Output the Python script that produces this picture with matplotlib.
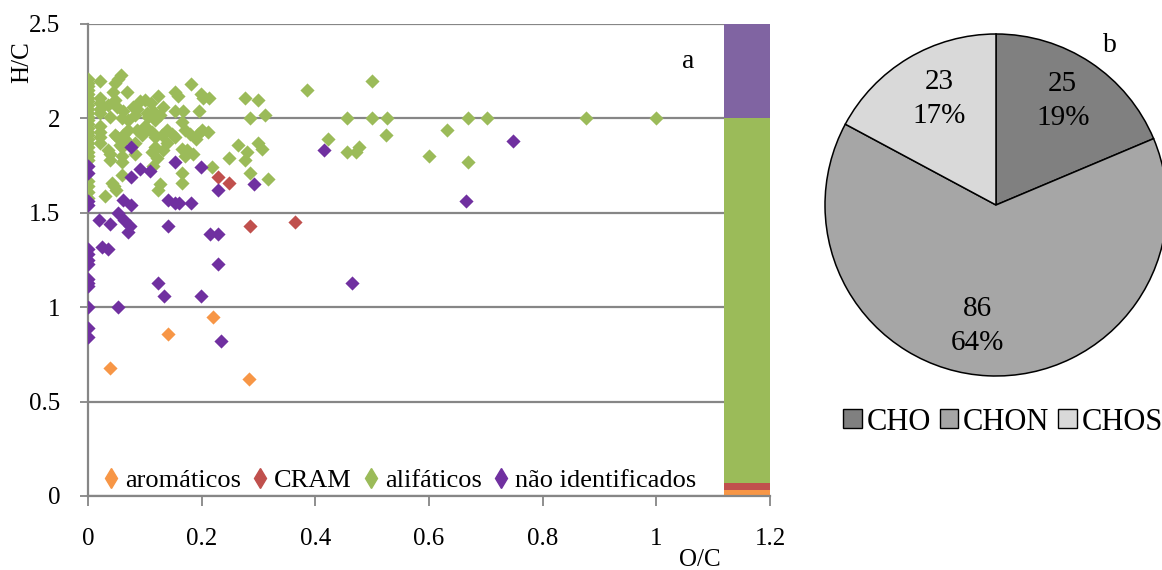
import matplotlib
matplotlib.use('Agg')
import matplotlib.pyplot as plt
from matplotlib.lines import Line2D
from matplotlib.patches import Patch

plt.rcParams['font.family'] = ['Liberation Serif', 'DejaVu Serif']

# ---------------- dados ----------------
# alifáticos
ali_x = [0, 0, 0, 0, 0, 0, 0, 0, 0, 0, 0, 0, 0, 0, 0, 0, 0, 0, 0, 0, 0, 0, 0, 0, 0, 0,
         0.021, 0.021, 0.021, 0.021, 0.021, 0.021, 0.021, 0.021, 0.021,
         0.048, 0.053, 0.058, 0.069, 0.044, 0.035, 0.048, 0.051, 0.062, 0.039, 0.060, 0.070,
         0.083, 0.092, 0.100, 0.111, 0.123, 0.114, 0.104, 0.086, 0.079, 0.106, 0.118, 0.127,
         0.132, 0.153, 0.158, 0.181, 0.153, 0.167, 0.195, 0.199, 0.203, 0.213, 0.165,
         0.035, 0.039, 0.048, 0.051, 0.062, 0.065, 0.070, 0.060, 0.039, 0.060, 0.083, 0.086,
         0.100, 0.095, 0.113, 0.118, 0.130, 0.139, 0.148, 0.153, 0.171, 0.180, 0.190, 0.194,
         0.200, 0.211, 0.139, 0.118, 0.113, 0.132, 0.165, 0.174, 0.185, 0.171, 0.121, 0.114,
         0.056, 0.083, 0.060, 0.218, 0.165, 0.165, 0.127, 0.123, 0.060, 0.042, 0.046, 0.049,
         0.030, 0.248, 0.264, 0.280, 0.276, 0.285, 0.317, 0.299, 0.306, 0.276, 0.299, 0.285,
         0.311, 0.385, 0.500, 0.455, 0.500, 0.526, 0.668, 0.702, 0.876, 1.000, 0.422, 0.455,
         0.472, 0.477, 0.524, 0.600, 0.632, 0.668]
ali_y = [2.21, 2.19, 2.17, 2.15, 2.13, 2.11, 2.09, 2.07, 2.05, 2.03, 2.01, 1.99, 1.97,
         1.95, 1.93, 1.91, 1.89, 1.87, 1.85, 1.82, 1.80, 1.78, 1.67, 1.64, 1.61, 1.58,
         2.20, 2.11, 2.08, 2.05, 2.03, 1.96, 1.93, 1.90, 1.87,
         2.19, 2.21, 2.23, 2.14, 2.14, 2.07, 2.10, 2.06, 2.04, 2.01, 2.00, 1.99,
         2.02, 2.09, 2.10, 2.08, 2.12, 2.04, 2.03, 2.05, 2.06, 2.01, 1.99, 2.02,
         2.06, 2.14, 2.12, 2.18, 2.04, 2.04, 2.04, 2.13, 2.11, 2.11, 1.98,
         1.83, 1.78, 1.91, 1.90, 1.91, 1.89, 1.94, 1.85, 1.81, 1.80, 1.81, 1.94,
         1.96, 1.91, 1.93, 1.90, 1.91, 1.94, 1.92, 1.90, 1.94, 1.92, 1.89, 1.92,
         1.94, 1.93, 1.87, 1.85, 1.82, 1.83, 1.84, 1.83, 1.81, 1.80, 1.79, 1.75,
         1.86, 1.87, 1.77, 1.74, 1.71, 1.66, 1.65, 1.62, 1.70, 1.66, 1.64, 1.62,
         1.59, 1.79, 1.86, 1.82, 1.78, 1.71, 1.68, 1.87, 1.84, 2.11, 2.10, 2.00,
         2.02, 2.15, 2.20, 2.00, 2.00, 2.00, 2.00, 2.00, 2.00, 2.00, 1.89, 1.82,
         1.82, 1.85, 1.91, 1.80, 1.94, 1.77]

# não identificados
ni_x = [0, 0, 0, 0, 0, 0, 0, 0, 0, 0, 0, 0, 0, 0,
        0.019, 0.039, 0.063, 0.053, 0.074, 0.070, 0.141, 0.215, 0.229, 0.025, 0.036,
        0.229, 0.124, 0.133, 0.199, 0.053, 0.234, 0.465, 0.076, 0.153, 0.199, 0.076,
        0.091, 0.109, 0.229, 0.292, 0.415, 0.748, 0.665, 0.062, 0.076, 0.141, 0.153,
        0.160, 0.181]
ni_y = [1.75, 1.71, 1.56, 1.54, 1.31, 1.28, 1.25, 1.23, 1.15, 1.13, 1.11, 1.00, 0.89, 0.84,
        1.46, 1.44, 1.46, 1.50, 1.43, 1.40, 1.43, 1.39, 1.39, 1.32, 1.31,
        1.23, 1.13, 1.06, 1.06, 1.00, 0.82, 1.13, 1.85, 1.77, 1.74, 1.69,
        1.73, 1.72, 1.62, 1.65, 1.83, 1.88, 1.56, 1.57, 1.54, 1.57, 1.55,
        1.55, 1.55]

# CRAM
cram_x = [0.229, 0.248, 0.285, 0.364]
cram_y = [1.69, 1.66, 1.43, 1.45]

# aromáticos
aro_x = [0.220, 0.141, 0.039, 0.283]
aro_y = [0.95, 0.86, 0.68, 0.62]

# faixas da barra à direita (limites em H/C)
band_edges = [0, 0.03, 0.07, 2.0, 2.5]

# gráfico de pizza
pie_labels = ['CHO', 'CHON', 'CHOS']
pie_counts = [25, 86, 23]

# ---------------- estilo ----------------
c_aro = '#F79646'
c_cram = '#C0504D'
c_ali = '#9BBB59'
c_ni = '#7030A0'
band_colors = [c_aro, c_cram, c_ali, '#8064A2']
pie_colors = ['#808080', '#A6A6A6', '#D9D9D9']
grid_c = '#868686'

W, H = 1162, 570
fig = plt.figure(figsize=(W / 100, H / 100), dpi=100)

# ---------------- (a) diagrama de van Krevelen ----------------
ax = fig.add_axes([88 / W, 1 - 496 / H, (770 - 88) / W, (496 - 24) / H])

for i in range(len(band_edges) - 1):
    ax.bar(1.16, band_edges[i + 1] - band_edges[i], width=0.083, bottom=band_edges[i],
           color=band_colors[i], linewidth=0, zorder=1)

ms = 52
ax.scatter(aro_x, aro_y, marker='D', s=ms, color=c_aro, linewidths=0, zorder=3)
ax.scatter(cram_x, cram_y, marker='D', s=ms, color=c_cram, linewidths=0, zorder=3)
ax.scatter(ali_x, ali_y, marker='D', s=ms, color=c_ali, linewidths=0, zorder=3)
ax.scatter(ni_x, ni_y, marker='D', s=ms, color=c_ni, linewidths=0, zorder=4)

ax.set_xlim(0, 1.2)
ax.set_ylim(0, 2.5)
ax.set_xticks([0, 0.2, 0.4, 0.6, 0.8, 1, 1.2])
ax.set_xticklabels(['0', '0.2', '0.4', '0.6', '0.8', '1', '1.2'])
ax.set_yticks([0, 0.5, 1, 1.5, 2, 2.5])
ax.set_yticklabels(['0', '0.5', '1', '1.5', '2', '2.5'])
ax.tick_params(axis='x', labelsize=18, length=7, width=1.3, color=grid_c, pad=16, direction='out')
ax.tick_params(axis='y', labelsize=18, length=6, width=1.3, color=grid_c, pad=14, direction='out')
ax.yaxis.grid(True, color=grid_c, linewidth=1.6, zorder=0)
ax.set_axisbelow(True)
for side in ['top', 'right']:
    ax.spines[side].set_visible(False)
for side in ['left', 'bottom']:
    ax.spines[side].set_color(grid_c)
    ax.spines[side].set_linewidth(1.6)
ax.spines['bottom'].set_zorder(5)

ax.text((688 - 88) / 682, (496 - 62) / 472, 'a', transform=ax.transAxes, fontsize=20,
        ha='center', va='center', zorder=6)

handles = [Line2D([], [], marker='d', linestyle='none', color=c, markersize=10)
           for c in [c_aro, c_cram, c_ali, c_ni]]
ax.legend(handles, ['aromáticos', 'CRAM', 'alifáticos', 'não identificados'],
          loc='lower left', bbox_to_anchor=(0.0, -0.025), ncol=4, frameon=False,
          fontsize=19, handlelength=0.55, handletextpad=0.25, columnspacing=0.45,
          borderaxespad=0.2)

fig.text(22 / W, 1 - 62 / H, 'H/C', rotation=90, fontsize=18, ha='center', va='center')
fig.text(700 / W, 1 - 560 / H, 'O/C', fontsize=18, ha='center', va='center')

# ---------------- (b) pizza ----------------
r = 171
cx, cy = 996, 205
pax = fig.add_axes([(cx - r) / W, 1 - (cy + r) / H, 2 * r / W, 2 * r / H])
wedges, _ = pax.pie(pie_counts, colors=pie_colors, startangle=90, counterclock=False,
                    radius=1, wedgeprops=dict(edgecolor='black', linewidth=1.1))
pax.set_xlim(-1, 1)
pax.set_ylim(-1, 1)
pax.set_aspect('auto')
for w in wedges:
    w.set_clip_on(False)

total = sum(pie_counts)
label_pos = [(0.39, 0.61), (-0.11, -0.71), (-0.33, 0.62)]
for n, (lx, ly) in zip(pie_counts, label_pos):
    pax.text(lx, ly, f'{n}\n{round(100 * n / total)}%', fontsize=21, ha='center',
             va='center', linespacing=1.4)

fig.text(1110 / W, 1 - 46 / H, 'b', fontsize=20, ha='center', va='center')

pie_handles = [Patch(facecolor=c, edgecolor='black', linewidth=1.0) for c in pie_colors]
fig.legend(pie_handles, pie_labels, loc='center', bbox_to_anchor=(1003 / W, 1 - 422 / H),
           ncol=3, frameon=False, fontsize=22, handlelength=0.6, handleheight=0.6,
           handletextpad=0.15, columnspacing=0.3)

fig.savefig('out.png', dpi=100)
